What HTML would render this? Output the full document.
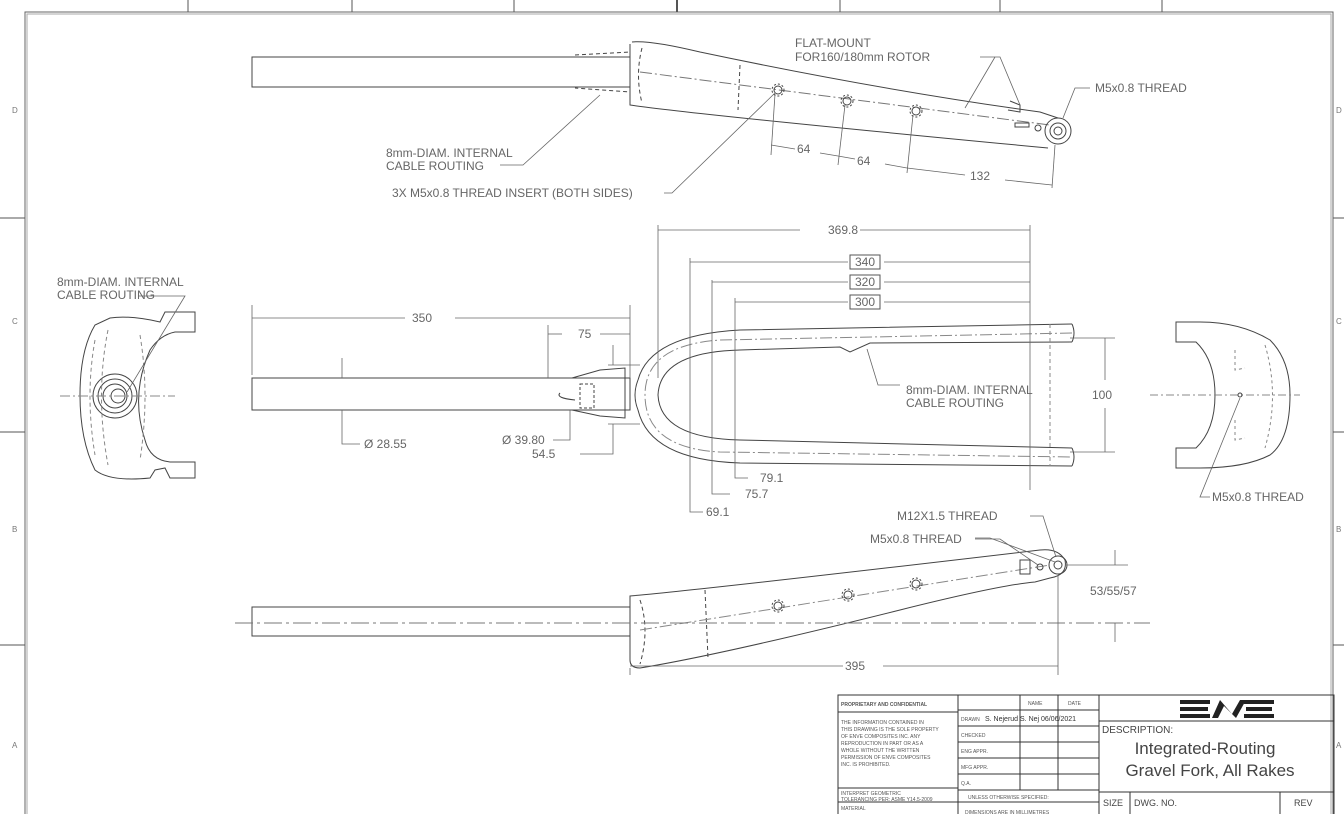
<!DOCTYPE html>
<html><head><meta charset="utf-8"><style>
html,body{margin:0;padding:0;background:#fff;}
svg{display:block;font-family:"Liberation Sans",sans-serif;}
.t{fill:#666;font-size:12px;}
.s{fill:#555;font-size:5px;}
</style></head><body>
<svg width="1344" height="814" viewBox="0 0 1344 814">
<g stroke="#444" fill="none" stroke-width="1">
<!-- border -->
<rect x="25" y="12" width="1308" height="810" stroke="#666"/>
<rect x="27" y="14" width="1304" height="810" stroke="#aaa"/>
<g stroke="#555"><line x1="188" y1="0" x2="188" y2="12"/><line x1="352" y1="0" x2="352" y2="12"/><line x1="514" y1="0" x2="514" y2="12"/><line x1="677" y1="0" x2="677" y2="12" stroke-width="2"/><line x1="840" y1="0" x2="840" y2="12"/><line x1="1000" y1="0" x2="1000" y2="12"/><line x1="1162" y1="0" x2="1162" y2="12"/>
<line x1="0" y1="218" x2="25" y2="218"/><line x1="0" y1="432" x2="25" y2="432"/><line x1="0" y1="645" x2="25" y2="645"/>
<line x1="1333" y1="218" x2="1344" y2="218"/><line x1="1333" y1="432" x2="1344" y2="432"/><line x1="1333" y1="645" x2="1344" y2="645"/></g>

<!-- TOP VIEW -->
<rect x="252" y="57" width="378" height="30"/>
<path d="M575 55 L630 52 L630 92 L575 88" stroke-dasharray="4 3"/>
<path d="M632 42 Q650 40 700 52 Q880 90 1040 112 L1058 118"/>
<path d="M630 44 L630 105 Q700 115 1048 148"/>
<path d="M642 48 Q635 75 642 103" stroke-dasharray="4 3"/>
<line x1="740" y1="65" x2="738" y2="110" stroke-dasharray="4 3"/>
<line x1="640" y1="72" x2="1050" y2="125" stroke-dasharray="12 3 2 3" stroke="#777"/>
<circle cx="1058" cy="131" r="13"/><circle cx="1058" cy="131" r="8"/><circle cx="1058" cy="131" r="4"/>
<circle cx="1038" cy="128" r="3"/>
<path d="M1010 101 L1020 105 L1020 112 L1008 110"/>
<rect x="1015" y="123" width="14" height="4"/>
<circle cx="778" cy="90" r="4"/><circle cx="778" cy="90" r="6" stroke-dasharray="2 2"/>
<circle cx="847" cy="101" r="4"/><circle cx="847" cy="101" r="6" stroke-dasharray="2 2"/>
<circle cx="916" cy="111" r="4"/><circle cx="916" cy="111" r="6" stroke-dasharray="2 2"/>
<g stroke="#666" stroke-width=".8">
<line x1="775" y1="94" x2="771" y2="155"/><line x1="845" y1="105" x2="838" y2="165"/><line x1="913" y1="115" x2="907" y2="173"/><line x1="1055" y1="145" x2="1052" y2="188"/>
<line x1="771" y1="145" x2="795" y2="149"/><line x1="820" y1="153" x2="838" y2="156"/><line x1="838" y1="156" x2="855" y2="159"/><line x1="885" y1="164" x2="907" y2="168"/><line x1="907" y1="168" x2="965" y2="175"/><line x1="1005" y1="180" x2="1052" y2="185"/>
<polyline points="664,193 672,193 775,93"/>
<polyline points="500,165 523,165 600,95"/>
<polyline points="980,57 1000,57 1020,105"/><line x1="995" y1="57" x2="965" y2="108"/>
<polyline points="1090,88 1075,88 1063,118"/>
</g>

<!-- MIDDLE VIEW -->
<rect x="252" y="378" width="378" height="32"/>
<path d="M572 378 L600 370 L625 368 L625 418 L600 416 L572 410"/>
<path d="M560 393 Q555 398 575 400" />
<rect x="580" y="384" width="14" height="24" stroke-dasharray="3 2"/>
<path d="M1072 324 L740 330 Q650 335 638 380 Q632 395 638 410 Q650 460 740 463 L1072 466"/>
<path d="M1072 324 Q1076 333 1072 342 M1072 448 Q1076 457 1072 466"/>
<path d="M1072 342 L870 343 L850 352 L840 347 L740 350 Q660 352 658 395 Q660 438 740 440 L1072 448"/>
<path d="M1072 333 L720 340 Q645 345 645 395 Q645 448 720 452 L1072 457" stroke-dasharray="12 3 2 3" stroke="#888"/>
<line x1="1050" y1="324" x2="1050" y2="466" stroke-dasharray="4 3" stroke="#888"/>
<g stroke="#666" stroke-width=".8">
<line x1="658" y1="225" x2="658" y2="378"/><line x1="1030" y1="225" x2="1030" y2="490"/>
<line x1="658" y1="230" x2="800" y2="230"/><line x1="860" y1="230" x2="1030" y2="230"/>
<line x1="690" y1="258" x2="690" y2="480"/><line x1="690" y1="262" x2="848" y2="262"/><line x1="884" y1="262" x2="1030" y2="262"/>
<line x1="712" y1="280" x2="712" y2="470"/><line x1="712" y1="282" x2="848" y2="282"/><line x1="884" y1="282" x2="1030" y2="282"/>
<line x1="735" y1="298" x2="735" y2="460"/><line x1="735" y1="302" x2="848" y2="302"/><line x1="884" y1="302" x2="1030" y2="302"/>
<polyline points="690,480 690,512 703,512"/><polyline points="712,470 712,494 730,494"/><polyline points="735,460 735,478 748,478"/>
<line x1="252" y1="305" x2="252" y2="375"/><line x1="630" y1="305" x2="630" y2="378"/>
<line x1="252" y1="318" x2="405" y2="318"/><line x1="455" y1="318" x2="630" y2="318"/>
<line x1="548" y1="325" x2="548" y2="378"/><line x1="548" y1="334" x2="562" y2="334"/><line x1="600" y1="334" x2="630" y2="334"/>
<line x1="342" y1="358" x2="342" y2="378"/><polyline points="342,410 342,444 360,444"/>
<polyline points="570,410 570,440 553,440"/>
<line x1="608" y1="365" x2="640" y2="365"/><line x1="608" y1="424" x2="640" y2="424"/><line x1="613" y1="345" x2="613" y2="365"/><polyline points="613,424 613,454 580,454"/>
<line x1="1070" y1="338" x2="1115" y2="338"/><line x1="1070" y1="452" x2="1115" y2="452"/><line x1="1105" y1="338" x2="1105" y2="380"/><line x1="1105" y1="408" x2="1105" y2="452"/>
<polyline points="867,349 878,385 900,385"/>
</g>

<!-- left end view -->
<path d="M95 325 Q80 350 80 395 Q80 440 95 470 Q110 482 150 478 L155 470 L165 468 L170 478 L195 478 L195 462 L170 462 Q150 460 145 440 Q130 395 150 350 Q160 335 175 332 L195 332 L195 312 L165 312 L160 322 Q130 315 110 318 Z"/>
<circle cx="115" cy="396" r="22"/><circle cx="115" cy="396" r="17"/><circle cx="115" cy="396" r="12"/><circle cx="118" cy="396" r="7"/>
<path d="M95 340 Q85 395 95 455 M108 330 Q95 395 108 465 M140 335 Q150 395 140 460" stroke-dasharray="4 3" stroke="#888"/>
<line x1="60" y1="396" x2="175" y2="396" stroke-dasharray="10 3 2 3" stroke="#888"/>
<polyline points="138,296 185,296 127,392" stroke="#666" stroke-width=".8"/>

<!-- right end view -->
<path d="M1176 322 L1200 322 Q1240 322 1270 340 Q1290 360 1290 395 Q1290 440 1270 455 Q1245 468 1200 468 L1176 468 L1176 448 L1196 448 Q1215 430 1215 395 Q1215 360 1196 342 L1176 342 Z"/>
<path d="M1235 350 L1235 370 L1245 368 M1235 420 L1235 440 L1245 438 M1265 345 Q1280 395 1265 448" stroke-dasharray="3 3" stroke="#888"/>
<line x1="1150" y1="395" x2="1300" y2="395" stroke-dasharray="8 3 2 3" stroke="#888"/>
<circle cx="1240" cy="395" r="2"/>
<polyline points="1240,398 1200,497 1210,497" stroke="#666" stroke-width=".8"/>

<!-- BOTTOM VIEW -->
<rect x="252" y="607" width="378" height="29"/>
<path d="M630 596 Q700 590 1040 550 Q1058 548 1065 560 Q1068 575 1050 578 L1035 582 Q1000 585 900 610 Q720 655 640 668 Q630 668 630 660 Z"/>
<line x1="705" y1="590" x2="708" y2="658" stroke-dasharray="4 3"/>
<path d="M640 600 Q650 630 640 664" stroke-dasharray="4 3"/>
<line x1="640" y1="630" x2="1050" y2="565" stroke-dasharray="12 3 2 3" stroke="#888"/>
<line x1="235" y1="623" x2="1150" y2="623" stroke-dasharray="18 4 3 4" stroke="#777"/>
<circle cx="1058" cy="565" r="9"/><circle cx="1058" cy="565" r="4"/>
<circle cx="1040" cy="567" r="3"/><rect x="1020" y="560" width="10" height="14"/>
<circle cx="778" cy="606" r="4"/><circle cx="778" cy="606" r="6" stroke-dasharray="2 2"/>
<circle cx="848" cy="595" r="4"/><circle cx="848" cy="595" r="6" stroke-dasharray="2 2"/>
<circle cx="916" cy="584" r="4"/><circle cx="916" cy="584" r="6" stroke-dasharray="2 2"/>
<g stroke="#666" stroke-width=".8">
<line x1="630" y1="668" x2="630" y2="675"/><line x1="1058" y1="575" x2="1058" y2="675"/>
<line x1="630" y1="666" x2="843" y2="666"/><line x1="883" y1="666" x2="1058" y2="666"/>
<line x1="1065" y1="565" x2="1128" y2="565"/><line x1="1115" y1="550" x2="1115" y2="565"/><line x1="1115" y1="623" x2="1115" y2="642"/>
<polyline points="975,538 990,538 1055,562"/><polyline points="975,541 1040,565" stroke="none"/>
<polyline points="1030,516 1043,516 1056,557"/>
<polyline points="975,539 1000,539 1038,565"/>
</g>
</g>

<!-- texts -->
<g class="t">
<text x="795" y="47">FLAT-MOUNT</text>
<text x="795" y="61">FOR160/180mm ROTOR</text>
<text x="1095" y="92">M5x0.8 THREAD</text>
<text x="386" y="157">8mm-DIAM. INTERNAL</text>
<text x="386" y="170">CABLE ROUTING</text>
<text x="392" y="197">3X M5x0.8 THREAD INSERT (BOTH SIDES)</text>
<text x="797" y="153">64</text><text x="857" y="165">64</text><text x="970" y="180">132</text>
<text x="828" y="234">369.8</text>
<rect x="850" y="255" width="30" height="14" fill="none" stroke="#555"/><text x="855" y="266">340</text>
<rect x="850" y="275" width="30" height="14" fill="none" stroke="#555"/><text x="855" y="286">320</text>
<rect x="850" y="295" width="30" height="14" fill="none" stroke="#555"/><text x="855" y="306">300</text>
<text x="57" y="286">8mm-DIAM. INTERNAL</text>
<text x="57" y="299">CABLE ROUTING</text>
<text x="412" y="322">350</text>
<text x="578" y="338">75</text>
<text x="906" y="394">8mm-DIAM. INTERNAL</text>
<text x="906" y="407">CABLE ROUTING</text>
<text x="1092" y="399">100</text>
<text x="364" y="448">Ø 28.55</text>
<text x="502" y="444">Ø 39.80</text>
<text x="532" y="458">54.5</text>
<text x="760" y="482">79.1</text><text x="745" y="498">75.7</text><text x="706" y="516">69.1</text>
<text x="1212" y="501">M5x0.8 THREAD</text>
<text x="897" y="520">M12X1.5 THREAD</text>
<text x="870" y="543">M5x0.8 THREAD</text>
<text x="1090" y="595">53/55/57</text>
<text x="845" y="670">395</text>
<g font-size="8" fill="#777"><text x="12" y="113">D</text><text x="1336" y="113">D</text><text x="12" y="324">C</text><text x="1336" y="324">C</text><text x="12" y="532">B</text><text x="1336" y="532">B</text><text x="12" y="748">A</text><text x="1336" y="748">A</text></g>
</g>

<!-- title block -->
<g stroke="#333" fill="none" stroke-width="1">
<rect x="838" y="695" width="496" height="130"/>
<line x1="958" y1="695" x2="958" y2="825"/>
<line x1="1099" y1="695" x2="1099" y2="825"/>
<line x1="838" y1="712" x2="958" y2="712"/>
<line x1="838" y1="788" x2="958" y2="788"/>
<line x1="838" y1="802" x2="958" y2="802"/>
<line x1="958" y1="710" x2="1099" y2="710"/>
<line x1="958" y1="726" x2="1099" y2="726"/>
<line x1="958" y1="742" x2="1099" y2="742"/>
<line x1="958" y1="758" x2="1099" y2="758"/>
<line x1="958" y1="774" x2="1099" y2="774"/>
<line x1="958" y1="790" x2="1099" y2="790"/>
<line x1="958" y1="802" x2="1099" y2="802"/>
<line x1="1020" y1="695" x2="1020" y2="790"/>
<line x1="1058" y1="695" x2="1058" y2="790"/>
<line x1="1099" y1="721" x2="1334" y2="721"/>
<line x1="1099" y1="792" x2="1334" y2="792"/>
<line x1="1130" y1="792" x2="1130" y2="825"/>
<line x1="1280" y1="792" x2="1280" y2="825"/>
</g>
<g fill="#222">
<rect x="1180" y="700" width="30" height="4"/><rect x="1180" y="707" width="28" height="4"/><rect x="1180" y="714" width="30" height="4"/>
<path d="M1212 718 L1220 700 L1232 714 L1240 700 L1246 700 L1236 718 L1224 706 L1218 718 Z"/>
<rect x="1244" y="700" width="30" height="4"/><rect x="1246" y="707" width="26" height="4"/><rect x="1244" y="714" width="30" height="4"/>
</g>
<g class="s">
<text x="841" y="706" font-weight="bold">PROPRIETARY AND CONFIDENTIAL</text>
<text x="841" y="724">THE INFORMATION CONTAINED IN</text>
<text x="841" y="731">THIS DRAWING IS THE SOLE PROPERTY</text>
<text x="841" y="738">OF ENVE COMPOSITES INC. ANY</text>
<text x="841" y="745">REPRODUCTION IN PART OR AS A</text>
<text x="841" y="752">WHOLE WITHOUT THE WRITTEN</text>
<text x="841" y="759">PERMISSION OF ENVE COMPOSITES</text>
<text x="841" y="766">INC. IS PROHIBITED.</text>
<text x="841" y="795">INTERPRET GEOMETRIC</text>
<text x="841" y="801">TOLERANCING PER: ASME Y14.5-2009</text>
<text x="841" y="810">MATERIAL</text>
<text x="1028" y="705">NAME</text><text x="1068" y="705">DATE</text>
<text x="961" y="721">DRAWN</text><text x="961" y="737">CHECKED</text><text x="961" y="753">ENG APPR.</text><text x="961" y="769">MFG APPR.</text><text x="961" y="785">Q.A.</text>
<text x="968" y="799">UNLESS OTHERWISE SPECIFIED:</text>
<text x="965" y="814">DIMENSIONS ARE IN MILLIMETRES</text>
</g>
<text x="985" y="721" font-size="7" fill="#333" font-family="Liberation Sans">S. Nejerud S. Nej 06/06/2021</text>
<g fill="#444" font-family="Liberation Sans">
<text x="1102" y="733" font-size="10">DESCRIPTION:</text>
<text x="1205" y="754" font-size="17" text-anchor="middle">Integrated-Routing</text>
<text x="1210" y="776" font-size="17" text-anchor="middle">Gravel Fork, All Rakes</text>
<text x="1103" y="806" font-size="9">SIZE</text>
<text x="1134" y="806" font-size="9">DWG.  NO.</text>
<text x="1294" y="806" font-size="9">REV</text>
</g>
</svg>
</body></html>
